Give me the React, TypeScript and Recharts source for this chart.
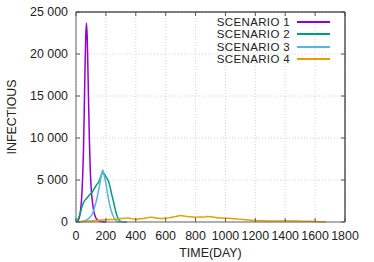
import { CartesianGrid, Legend, Line, LineChart, ReferenceLine, XAxis, YAxis } from "recharts";

// [day, infectious]
const scenario1 = [
  [0, 0], [10, 100], [20, 400], [30, 1300], [40, 3500], [50, 8500], [55, 13000],
  [60, 18000], [65, 22000], [70, 23700], [75, 22000], [80, 18000], [85, 13500],
  [90, 9500], [95, 6500], [100, 4500], [105, 3200], [110, 2400], [115, 1700],
  [120, 1200], [130, 600], [140, 300], [160, 100], [180, 30], [200, 0]
];
const scenario2 = [
  [0, 0], [10, 150], [20, 600], [30, 1200], [40, 1800], [50, 2300], [60, 2600],
  [70, 2800], [80, 3000], [90, 3200], [100, 3400], [110, 3600], [120, 3900],
  [130, 4200], [140, 4500], [150, 4700], [160, 5100], [170, 5600], [180, 5800],
  [190, 5700], [200, 5400], [210, 5100], [220, 4700], [230, 4000], [240, 3200],
  [250, 2500], [260, 1700], [270, 1000], [280, 500], [290, 200], [300, 60],
  [320, 10], [340, 0]
];
const scenario3 = [
  [0, 0], [20, 10], [40, 60], [60, 150], [80, 350], [100, 700], [110, 1000],
  [120, 1500], [130, 2100], [140, 2800], [150, 3700], [160, 4600], [170, 5600],
  [178, 6200], [185, 5900], [190, 5400], [200, 4600], [210, 3500], [220, 2500],
  [230, 1700], [240, 1100], [250, 650], [260, 350], [270, 150], [280, 60],
  [300, 10], [320, 0]
];
const scenario4 = [
  [0, 0], [25, 30], [50, 70], [75, 100], [100, 130], [125, 170], [150, 200],
  [175, 230], [200, 260], [225, 290], [250, 300], [275, 350], [300, 420],
  [325, 460], [350, 480], [375, 400], [400, 330], [425, 380], [450, 420],
  [475, 500], [500, 560], [525, 520], [550, 450], [575, 420], [600, 470],
  [625, 520], [650, 600], [675, 680], [700, 760], [725, 700], [750, 640],
  [775, 600], [800, 560], [825, 600], [850, 580], [875, 640], [900, 620],
  [925, 560], [950, 500], [975, 480], [1000, 460], [1025, 440], [1050, 400],
  [1075, 370], [1100, 320], [1125, 280], [1150, 240], [1175, 200], [1200, 170],
  [1250, 140], [1300, 130], [1350, 120], [1400, 140], [1450, 130], [1500, 100],
  [1550, 80], [1600, 50], [1650, 20], [1675, 0]
];

const xTicks = [0, 200, 400, 600, 800, 1000, 1200, 1400, 1600, 1800];
const yTicks = [0, 5000, 10000, 15000, 20000, 25000];

const series = [
  { name: "SCENARIO 1", color: "#9400d3", points: scenario1 },
  { name: "SCENARIO 2", color: "#009e73", points: scenario2 },
  { name: "SCENARIO 3", color: "#56b4e9", points: scenario3 },
  { name: "SCENARIO 4", color: "#e69f00", points: scenario4 }
];

const font = "'Liberation Sans', Arial, sans-serif";
const fontSize = 12.4;

const fmt = (v: number) =>
  v >= 1000 ? `${Math.floor(v / 1000)} ${String(v % 1000).padStart(3, "0")}` : String(v);

const PLOT_L = 76;
const PLOT_R = 345;
const PLOT_T = 12;
const PLOT_B = 222;

function YTick(props: any) {
  const { x, y, payload } = props;
  return (
    <g>
      <line x1={PLOT_L} x2={PLOT_L + 4} y1={y} y2={y} stroke="#555" />
      <line x1={PLOT_R - 4} x2={PLOT_R} y1={y} y2={y} stroke="#555" />
      <text x={x} y={y} textAnchor="end" dominantBaseline="central" fontSize={fontSize} fill="#222" fontFamily={font}>
        {fmt(payload.value)}
      </text>
    </g>
  );
}

function XTick(props: any) {
  const { x, y, payload } = props;
  return (
    <g>
      <line x1={x} x2={x} y1={PLOT_B} y2={PLOT_B - 4} stroke="#555" />
      <line x1={x} x2={x} y1={PLOT_T} y2={PLOT_T + 4} stroke="#555" />
      <text x={x} y={y + 6} textAnchor="middle" dominantBaseline="central" fontSize={fontSize} fill="#222" fontFamily={font}>
        {payload.value}
      </text>
    </g>
  );
}

function LegendBox() {
  return (
    <div style={{ fontFamily: font, fontSize: 11.5, letterSpacing: 0.35, color: "#222" }}>
      {series.map((s) => (
        <div key={s.name} style={{ display: "flex", alignItems: "center", height: 12.3 }}>
          <span
            style={{
              display: "inline-block",
              width: 90,
              height: 12.3,
              lineHeight: "12.3px",
              textAlign: "right",
              overflow: "visible",
              whiteSpace: "nowrap"
            }}
          >
            {s.name}
          </span>
          <span style={{ width: 33, height: 2, marginLeft: 7, background: s.color }} />
        </div>
      ))}
    </div>
  );
}

export default function App() {
  return (
    <div style={{ position: "absolute", left: 0, top: 0, background: "#fff" }}>
      <LineChart
        width={374}
        height={262}
        margin={{ top: PLOT_T, right: 374 - PLOT_R, bottom: 0, left: 0 }}
      >
        <CartesianGrid stroke="#d4d4d4" strokeDasharray="1 2" />
        <XAxis
          dataKey="day"
          type="number"
          domain={[0, 1800]}
          ticks={xTicks}
          interval={0}
          allowDuplicatedCategory={false}
          height={40}
          tickSize={0}
          tickMargin={8}
          tickLine={false}
          axisLine={{ stroke: "#666" }}
          tick={<XTick />}
          label={{
            content: ({ viewBox }: any) => (
              <text
                x={viewBox.x + viewBox.width / 2}
                y={viewBox.y + 31}
                textAnchor="middle"
                dominantBaseline="central"
                fontSize={fontSize}
                fill="#222"
                fontFamily={font}
              >
                TIME(DAY)
              </text>
            )
          }}
        />
        <YAxis
          type="number"
          domain={[0, 25000]}
          ticks={yTicks}
          interval={0}
          width={PLOT_L}
          tickSize={0}
          tickMargin={8}
          tickLine={false}
          axisLine={{ stroke: "#666" }}
          tick={<YTick />}
          label={{
            content: ({ viewBox }: any) => {
              const cx = 12;
              const cy = viewBox.y + viewBox.height / 2;
              return (
                <text
                  x={cx}
                  y={cy}
                  transform={`rotate(-90 ${cx} ${cy})`}
                  textAnchor="middle"
                  dominantBaseline="central"
                  fontSize={fontSize}
                  fill="#222"
                  fontFamily={font}
                >
                  INFECTIOUS
                </text>
              );
            }
          }}
        />
        <ReferenceLine y={25000} stroke="#000" />
        <ReferenceLine x={1800} stroke="#000" />
        <Legend
          layout="vertical"
          align="center"
          verticalAlign="middle"
          content={<LegendBox />}
          wrapperStyle={{ position: "absolute", left: 200, top: 16, width: 140 }}
        />
        {series.map((s) => (
          <Line
            key={s.name}
            name={s.name}
            data={s.points.map(([day, v]) => ({ day, v }))}
            dataKey="v"
            type="monotone"
            stroke={s.color}
            strokeWidth={1.5}
            dot={false}
            isAnimationActive={false}
          />
        ))}
      </LineChart>
    </div>
  );
}
